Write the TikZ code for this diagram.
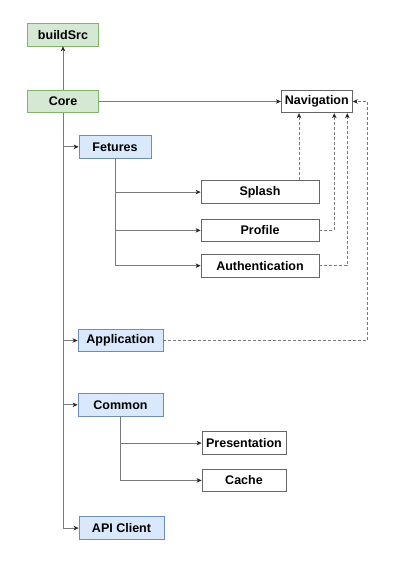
\documentclass[tikz,border=0pt]{standalone}
\usepackage{fontspec}
\setmainfont{Liberation Sans}
\usepackage{tikz}
\usetikzlibrary{arrows.meta}
\usetikzlibrary{positioning}

\definecolor{corefill}{HTML}{D5E8D4}
\definecolor{coreline}{HTML}{82B366}
\definecolor{modfill}{HTML}{DAE8FC}
\definecolor{modline}{HTML}{6C8EBF}
\definecolor{wire}{HTML}{7A7A7A}
\definecolor{boxline}{HTML}{666666}

\tikzset{
  box/.style={draw, line width=0.8pt, minimum height=22.5pt, inner sep=0pt,
    font=\fontsize{12.5}{14}\selectfont\bfseries},
  corebox/.style={box, fill=corefill, draw=coreline, minimum width=71pt},
  modbox/.style={box, fill=modfill, draw=modline, minimum width=85pt},
  leafbox/.style={box, fill=white, draw=boxline},
  link/.style={draw=wire, line width=0.7pt,
    -{Stealth[length=5pt,width=4.5pt,inset=1.5pt,color=black!85]}},
  dep/.style={link, dash pattern=on 3pt off 2pt},
}

\begin{document}
\begin{tikzpicture}[x=1pt, y=-1pt]
    \useasboundingbox (0,0) rectangle (400,567);

      \node [corebox] (core) at (63,101.5) {Core};
      \node [corebox, above=43.5pt of core] (buildsrc) {buildSrc};
      \node [leafbox, minimum width=71pt, right=182pt of core] (navigation) {Navigation};

      \node [modbox, minimum width=72pt, below=22pt of core, xshift=52pt] (fetures) {Fetures};
      \node [leafbox, minimum width=118pt, below=22pt of fetures, xshift=145pt] (splash) {Splash};
      \node [leafbox, minimum width=118pt, below=15pt of splash] (profile) {Profile};
      \node [leafbox, minimum width=118pt, below=12pt of profile] (authentication) {Authentication};

      \node [modbox] (application) at (120.5,340.5) {Application};
      \node [modbox, below=41pt of application] (common) {Common};
      \node [leafbox, minimum width=84pt, below=15pt of common, xshift=123.5pt] (presentation) {Presentation};
      \node [leafbox, minimum width=84pt, below=14pt of presentation] (cache) {Cache};
      \node [modbox, below=100pt of common, xshift=1pt] (apiclient) {API Client};

      % core
      \draw [link] (core) -- (buildsrc);
      \draw [link] (core) -- (navigation);
      \draw [link] (core.south) |- (fetures.west);
      \draw [link] (core.south) |- (application.west);
      \draw [link] (core.south) |- (common.west);
      \draw [link] (core.south) |- (apiclient.west);

      % features
      \draw [link] (fetures.south) |- (splash.west);
      \draw [link] (fetures.south) |- (profile.west);
      \draw [link] (fetures.south) |- (authentication.west);

      % common
      \draw [link] (common.south) |- (presentation.west);
      \draw [link] (common.south) |- (cache.west);

      % navigation
      \draw [dep] ([xshift=39pt]splash.north) -- ([xshift=39pt]splash.north |- navigation.south);
      \draw [dep] (profile.east) -| ([xshift=17.5pt]navigation.south);
      \draw [dep] (authentication.east) -| ([xshift=30.5pt]navigation.south);
      \draw [dep] (application.east) -| ([xshift=15pt]navigation.east) -- (navigation.east);
\end{tikzpicture}
\end{document}
